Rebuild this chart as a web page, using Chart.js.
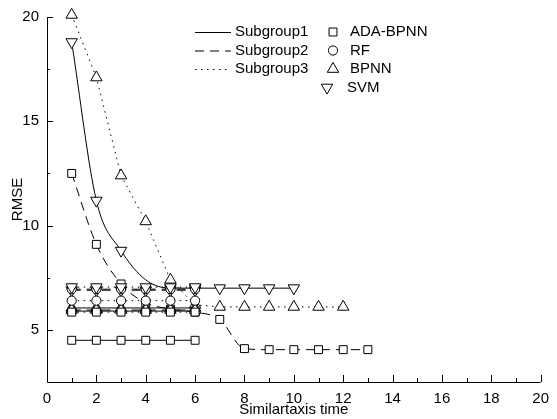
<!DOCTYPE html>
<html>
<head>
<meta charset="utf-8">
<script src="https://cdn.jsdelivr.net/npm/chart.js@4.4.1/dist/chart.umd.min.js"></script>
<style>
  html, body { margin: 0; padding: 0; background: #fff; }
  #wrap { width: 557px; height: 419px; }
</style>
</head>
<body>
<div id="wrap"><canvas id="rmseChart"></canvas></div>
<script>
// similartaxis iterations on the x axis
const steps = [1, 2, 3, 4, 5, 6, 7, 8, 9, 10, 11, 12, 13];

// Subgroup1 (solid line)
const sub1Ada = [4.5, 4.5, 4.5, 4.5, 4.5, 4.5];
const sub1Rf = [5.9, 5.9, 5.9, 5.9, 5.9, 5.9];
const sub1Bpnn = [6.05, 6.05, 6.05, 6.05, 6.05, 6.05];
const sub1Svm = [18.8, 11.2, 8.8, 7.4, 7.0, 7.0, 7.0, 7.0, 7.0, 7.0];

// Subgroup2 (dashed line)
const sub2Ada = [12.5, 9.1, 7.2, 6.3, 6.0, 5.85, 5.5, 4.1, 4.05, 4.05, 4.05, 4.05, 4.05];
const sub2Rf = [6.95, 6.95, 6.95, 6.95, 6.95, 6.95];
const sub2Bpnn = [5.95, 5.95, 5.95, 5.95, 5.95, 5.95];
const sub2Svm = [6.9, 6.9, 6.9, 6.9, 6.9, 6.9];

// Subgroup3 (dotted line)
const sub3Ada = [5.85, 5.85, 5.85, 5.85, 5.85, 5.85];
const sub3Rf = [6.4, 6.4, 6.4, 6.4, 6.4, 6.4];
const sub3Bpnn = [20.1, 17.1, 12.4, 10.2, 7.4, 6.2, 6.1, 6.1, 6.1, 6.1, 6.1, 6.1];
const sub3Svm = [7.05, 7.05, 7.05, 7.05, 7.05, 7.05];

const xTicks = [0, 2, 4, 6, 8, 10, 12, 14, 16, 18, 20];
const yTicks = [5, 10, 15, 20];

const subgroupNames = ["Subgroup1", "Subgroup2", "Subgroup3"];
const modelNames = ["ADA-BPNN", "RF", "BPNN", "SVM"];

const FONT = "'Liberation Sans', Arial, sans-serif";
const dashes = { solid: [], dashed: [9, 6], dotted: [1.5, 4.5] };
const markers = {
  "ADA-BPNN": { pointStyle: "rect", radius: 5.6, rotation: 0 },
  "RF": { pointStyle: "circle", radius: 4.6, rotation: 0 },
  "BPNN": { pointStyle: "triangle", radius: 6.6, rotation: 0 },
  "SVM": { pointStyle: "triangle", radius: 6.6, rotation: 180 }
};

function series(values, model, dash, opts) {
  const m = markers[model];
  return Object.assign({
    label: model,
    data: values.map((v, i) => ({ x: steps[i], y: v })),
    borderColor: "#000",
    borderWidth: 1,
    borderDash: dash,
    pointStyle: m.pointStyle,
    pointRotation: m.rotation,
    pointRadius: m.radius,
    pointBorderColor: "#000",
    pointBackgroundColor: "#fff",
    pointBorderWidth: 1,
    tension: 0,
    fill: false,
    clip: false
  }, opts || {});
}

const datasets = [
  series(sub3Ada, "ADA-BPNN", dashes.dotted),
  series(sub3Rf, "RF", dashes.dotted),
  series(sub3Svm, "SVM", dashes.dotted),
  series(sub2Rf, "RF", dashes.dashed),
  series(sub2Bpnn, "BPNN", dashes.dashed),
  series(sub2Svm, "SVM", dashes.dashed),
  series(sub1Ada, "ADA-BPNN", dashes.solid),
  series(sub1Rf, "RF", dashes.solid),
  series(sub1Bpnn, "BPNN", dashes.solid),
  series(sub2Ada, "ADA-BPNN", dashes.dashed, { cubicInterpolationMode: "monotone" }),
  series(sub3Bpnn, "BPNN", dashes.dotted),
  series(sub1Svm, "SVM", dashes.solid, {
    cubicInterpolationMode: "monotone",
    pointRadius: sub1Svm.map((v, i) => (i === 3 ? 0 : markers.SVM.radius))
  })
];

// axis lines plus inward major/minor ticks
const frameTicks = {
  id: "frameTicks",
  afterDraw(chart) {
    const { ctx, chartArea: a, scales: { x, y } } = chart;
    ctx.save();
    ctx.strokeStyle = "#000";
    ctx.lineWidth = 1;
    ctx.setLineDash([]);
    ctx.beginPath();
    ctx.moveTo(a.left + 0.5, y.getPixelForValue(yTicks[yTicks.length - 1]));
    ctx.lineTo(a.left + 0.5, a.bottom + 0.5);
    ctx.lineTo(a.right, a.bottom + 0.5);
    xTicks.forEach((v, i) => {
      const px = Math.round(x.getPixelForValue(v)) + 0.5;
      ctx.moveTo(px, a.bottom);
      ctx.lineTo(px, a.bottom - 7);
      if (i < xTicks.length - 1) {
        const mx = Math.round(x.getPixelForValue((v + xTicks[i + 1]) / 2)) + 0.5;
        ctx.moveTo(mx, a.bottom);
        ctx.lineTo(mx, a.bottom - 4);
      }
    });
    yTicks.forEach((v, i) => {
      const py = Math.round(y.getPixelForValue(v)) + 0.5;
      ctx.moveTo(a.left, py);
      ctx.lineTo(a.left + 6, py);
      if (i < yTicks.length - 1) {
        const my = Math.round(y.getPixelForValue((v + yTicks[i + 1]) / 2)) + 0.5;
        ctx.moveTo(a.left, my);
        ctx.lineTo(a.left + 3, my);
      }
    });
    ctx.stroke();
    ctx.restore();
  }
};

// two-column legend: line styles and marker shapes
const twoColLegend = {
  id: "twoColLegend",
  afterDraw(chart) {
    const ctx = chart.ctx;
    ctx.save();
    ctx.font = "15px " + FONT;
    ctx.fillStyle = "#000";
    ctx.textBaseline = "middle";
    const rowY = [32, 50.5, 69, 87.5];
    const styles = [dashes.solid, dashes.dashed, dashes.dotted];
    subgroupNames.forEach((name, i) => {
      ctx.strokeStyle = "#000";
      ctx.lineWidth = 1;
      ctx.setLineDash(styles[i]);
      ctx.beginPath();
      ctx.moveTo(195, rowY[i] + 0.5);
      ctx.lineTo(231, rowY[i] + 0.5);
      ctx.stroke();
      ctx.setLineDash([]);
      ctx.fillText(name, 235, rowY[i]);
    });
    modelNames.forEach((name, i) => {
      const m = markers[name];
      const mx = name === "SVM" ? 327 : 333;
      ctx.strokeStyle = "#000";
      ctx.fillStyle = "#fff";
      ctx.lineWidth = 1;
      Chart.helpers.drawPoint(ctx, {
        pointStyle: m.pointStyle,
        radius: m.radius,
        rotation: m.rotation,
        borderWidth: 1
      }, mx, rowY[i]);
      ctx.fillStyle = "#000";
      ctx.fillText(name, name === "SVM" ? 347 : 350, rowY[i]);
    });
    ctx.restore();
  }
};

Chart.defaults.font.family = FONT;
Chart.defaults.color = "#000";

new Chart(document.getElementById("rmseChart"), {
  type: "line",
  data: { datasets: datasets },
  options: {
    responsive: true,
    maintainAspectRatio: false,
    animation: false,
    layout: { padding: { top: 16, right: 10, left: 0, bottom: 0 } },
    plugins: {
      legend: { display: false },
      tooltip: { enabled: false }
    },
    scales: {
      x: {
        type: "linear",
        min: 0,
        max: 20,
        afterBuildTicks: s => { s.ticks = xTicks.map(v => ({ value: v })); },
        afterFit: s => { s.height = 37; },
        grid: { display: false, drawTicks: false },
        border: { display: false },
        ticks: { padding: 8, font: { size: 15 }, maxRotation: 0 },
        title: { display: true, text: "Similartaxis time", font: { size: 15 }, padding: { top: 0, bottom: 0 } }
      },
      y: {
        type: "linear",
        min: 2.5,
        max: 20,
        afterBuildTicks: s => { s.ticks = yTicks.map(v => ({ value: v })); },
        afterFit: s => { s.width = 47; },
        grid: { display: false, drawTicks: false },
        border: { display: false },
        ticks: { padding: 8, font: { size: 15 } },
        title: { display: true, text: "RMSE", font: { size: 15 }, padding: { top: 9, bottom: 0 } }
      }
    }
  },
  plugins: [frameTicks, twoColLegend]
});
</script>
</body>
</html>
